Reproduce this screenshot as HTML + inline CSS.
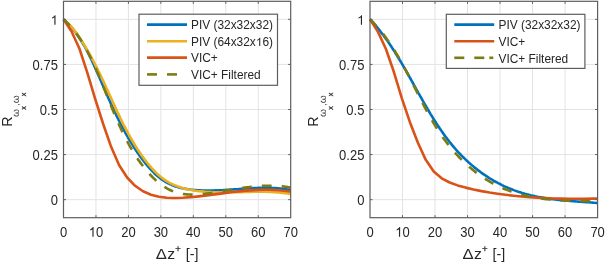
<!DOCTYPE html>
<html><head><meta charset="utf-8"><style>
html,body{margin:0;padding:0;background:#fff;}
body{width:605px;height:263px;overflow:hidden;}
svg{display:block;font-family:'Liberation Sans', sans-serif;will-change:transform;font-kerning:none;}
</style></head><body>
<svg width="605" height="263" viewBox="0 0 605 263">
<rect width="605" height="263" fill="#fff"/>
<path d="M95.96,1.30V217.70M128.41,1.30V217.70M160.87,1.30V217.70M193.33,1.30V217.70M225.79,1.30V217.70M258.24,1.30V217.70M63.50,199.67H290.70M63.50,154.58H290.70M63.50,109.50H290.70M63.50,64.42H290.70M63.50,19.33H290.70" stroke="#e3e3e3" stroke-width="1.0" fill="none"/>
<path d="M402.51,1.30V217.70M435.03,1.30V217.70M467.54,1.30V217.70M500.06,1.30V217.70M532.57,1.30V217.70M565.09,1.30V217.70M370.00,199.67H597.60M370.00,154.58H597.60M370.00,109.50H597.60M370.00,64.42H597.60M370.00,19.33H597.60" stroke="#e3e3e3" stroke-width="1.0" fill="none"/>
<g><path d="M63.5,19.3 C63.7,19.5 64.3,20.0 64.6,20.3 C65.0,20.7 65.4,21.0 65.7,21.4 C66.1,21.7 66.4,22.1 66.8,22.4 C67.1,22.8 67.5,23.1 67.8,23.5 C68.2,23.8 68.5,24.2 68.9,24.6 C69.2,24.9 69.6,25.3 69.9,25.7 C70.2,26.0 70.6,26.4 70.9,26.8 C71.2,27.2 71.5,27.5 71.9,27.9 C72.2,28.3 72.5,28.7 72.8,29.0 C73.1,29.4 73.4,29.8 73.7,30.2 C74.1,30.6 74.4,31.0 74.7,31.4 C75.0,31.8 75.3,32.1 75.6,32.5 C75.9,32.9 76.2,33.3 76.4,33.7 C76.7,34.1 77.0,34.5 77.3,34.9 C77.6,35.3 77.9,35.7 78.2,36.1 C78.4,36.6 78.7,37.0 79.0,37.4 C79.3,37.8 79.6,38.2 79.8,38.6 C80.1,39.0 80.4,39.4 80.6,39.8 C80.9,40.3 81.2,40.7 81.4,41.1 C81.7,41.5 81.9,41.9 82.2,42.4 C82.5,42.8 82.7,43.2 83.0,43.6 C83.2,44.1 83.5,44.5 83.7,44.9 C84.0,45.3 84.2,45.8 84.5,46.2 C84.7,46.6 85.0,47.1 85.2,47.5 C85.4,47.9 85.7,48.4 85.9,48.8 C86.2,49.2 86.4,49.7 86.6,50.1 C86.9,50.6 87.1,51.0 87.3,51.4 C87.6,51.9 87.8,52.3 88.0,52.8 C88.2,53.2 88.5,53.7 88.7,54.1 C88.9,54.5 89.2,55.0 89.4,55.4 C89.6,55.9 89.8,56.3 90.0,56.8 C90.3,57.2 90.5,57.7 90.7,58.1 C90.9,58.6 91.1,59.0 91.3,59.5 C91.6,59.9 91.8,60.4 92.0,60.8 C92.2,61.3 92.4,61.8 92.6,62.2 C92.8,62.7 93.0,63.1 93.3,63.6 C93.5,64.0 93.7,64.5 93.9,64.9 C94.1,65.4 94.3,65.9 94.5,66.3 C94.7,66.8 94.9,67.2 95.1,67.7 C95.3,68.1 95.5,68.6 95.7,69.1 C95.9,69.5 96.1,70.0 96.4,70.4 C96.6,70.9 96.8,71.4 97.0,71.8 C97.2,72.3 97.4,72.7 97.6,73.2 C97.8,73.7 98.0,74.1 98.2,74.6 C98.4,75.0 98.6,75.5 98.8,76.0 C99.0,76.4 99.2,76.9 99.4,77.4 C99.6,77.8 99.8,78.3 100.0,78.7 C100.2,79.2 100.4,79.7 100.6,80.1 C100.8,80.6 101.0,81.0 101.2,81.5 C101.4,82.0 101.6,82.4 101.8,82.9 C102.0,83.4 102.2,83.8 102.4,84.3 C102.6,84.7 102.8,85.2 103.0,85.7 C103.2,86.1 103.4,86.6 103.6,87.0 C103.8,87.5 104.0,88.0 104.2,88.4 C104.4,88.9 104.6,89.3 104.8,89.8 C105.0,90.3 105.2,90.7 105.4,91.2 C105.6,91.6 105.8,92.1 106.0,92.6 C106.2,93.0 106.4,93.5 106.6,93.9 C106.8,94.4 107.0,94.9 107.2,95.3 C107.4,95.8 107.6,96.2 107.8,96.7 C108.0,97.2 108.2,97.6 108.4,98.1 C108.6,98.5 108.8,99.0 109.1,99.5 C109.3,99.9 109.5,100.4 109.7,100.8 C109.9,101.3 110.1,101.7 110.3,102.2 C110.5,102.7 110.7,103.1 110.9,103.6 C111.1,104.0 111.3,104.5 111.5,104.9 C111.7,105.4 111.9,105.9 112.2,106.3 C112.4,106.8 112.6,107.2 112.8,107.7 C113.0,108.1 113.2,108.6 113.4,109.0 C113.6,109.5 113.8,109.9 114.1,110.4 C114.3,110.9 114.5,111.3 114.7,111.8 C114.9,112.2 115.1,112.7 115.3,113.1 C115.6,113.6 115.8,114.0 116.0,114.5 C116.2,114.9 116.4,115.4 116.6,115.8 C116.9,116.3 117.1,116.7 117.3,117.2 C117.5,117.6 117.7,118.1 118.0,118.5 C118.2,119.0 118.4,119.4 118.6,119.9 C118.9,120.3 119.1,120.8 119.3,121.2 C119.5,121.7 119.8,122.1 120.0,122.6 C120.2,123.0 120.4,123.5 120.7,123.9 C120.9,124.3 121.1,124.8 121.4,125.2 C121.6,125.7 121.8,126.1 122.1,126.6 C122.3,127.0 122.5,127.4 122.8,127.9 C123.0,128.3 123.2,128.8 123.5,129.2 C123.7,129.7 123.9,130.1 124.2,130.5 C124.4,131.0 124.6,131.4 124.9,131.9 C125.1,132.3 125.4,132.7 125.6,133.2 C125.9,133.6 126.1,134.0 126.3,134.5 C126.6,134.9 126.8,135.4 127.1,135.8 C127.3,136.2 127.6,136.7 127.8,137.1 C128.1,137.5 128.3,138.0 128.6,138.4 C128.8,138.8 129.1,139.3 129.3,139.7 C129.6,140.1 129.9,140.6 130.1,141.0 C130.4,141.4 130.6,141.8 130.9,142.3 C131.2,142.7 131.4,143.1 131.7,143.6 C131.9,144.0 132.2,144.4 132.5,144.8 C132.7,145.3 133.0,145.7 133.3,146.1 C133.5,146.5 133.8,147.0 134.1,147.4 C134.4,147.8 134.6,148.2 134.9,148.7 C135.2,149.1 135.5,149.5 135.7,149.9 C136.0,150.3 136.3,150.8 136.6,151.2 C136.9,151.6 137.1,152.0 137.4,152.4 C137.7,152.8 138.0,153.3 138.3,153.7 C138.6,154.1 138.9,154.5 139.1,154.9 C139.4,155.3 139.7,155.7 140.0,156.1 C140.3,156.6 140.6,157.0 140.9,157.4 C141.2,157.8 141.5,158.2 141.8,158.6 C142.1,159.0 142.4,159.4 142.7,159.8 C143.0,160.2 143.3,160.6 143.6,161.0 C143.9,161.4 144.3,161.8 144.6,162.2 C144.9,162.6 145.2,163.0 145.5,163.4 C145.8,163.8 146.1,164.2 146.5,164.6 C146.8,165.0 147.1,165.4 147.4,165.8 C147.8,166.2 148.1,166.5 148.4,166.9 C148.7,167.3 149.1,167.7 149.4,168.1 C149.7,168.4 150.1,168.8 150.4,169.2 C150.7,169.5 151.1,169.9 151.4,170.3 C151.8,170.6 152.1,171.0 152.5,171.4 C152.8,171.7 153.2,172.1 153.5,172.4 C153.9,172.8 154.2,173.1 154.6,173.5 C154.9,173.8 155.3,174.1 155.7,174.5 C156.0,174.8 156.4,175.1 156.8,175.4 C157.1,175.8 157.5,176.1 157.9,176.4 C158.3,176.7 158.6,177.0 159.0,177.3 C159.4,177.6 159.8,177.9 160.2,178.2 C160.6,178.5 160.9,178.8 161.3,179.1 C161.7,179.4 162.1,179.7 162.5,179.9 C162.9,180.2 163.3,180.5 163.7,180.7 C164.1,181.0 164.5,181.3 165.0,181.5 C165.4,181.8 165.8,182.0 166.2,182.3 C166.6,182.5 167.0,182.7 167.5,183.0 C167.9,183.2 168.3,183.4 168.8,183.6 C169.2,183.8 169.6,184.0 170.1,184.2 C170.5,184.4 170.9,184.6 171.4,184.8 C171.8,185.0 172.3,185.2 172.7,185.4 C173.2,185.5 173.6,185.7 174.1,185.9 C174.5,186.0 175.0,186.2 175.4,186.4 C175.9,186.5 176.4,186.7 176.8,186.8 C177.3,186.9 177.8,187.1 178.2,187.2 C178.7,187.3 179.2,187.5 179.7,187.6 C180.1,187.7 180.6,187.8 181.1,188.0 C181.6,188.1 182.0,188.2 182.5,188.3 C183.0,188.4 183.5,188.5 184.0,188.6 C184.5,188.7 184.9,188.8 185.4,188.9 C185.9,188.9 186.4,189.0 186.9,189.1 C187.4,189.2 187.9,189.3 188.4,189.3 C188.9,189.4 189.4,189.5 189.9,189.5 C190.4,189.6 190.9,189.7 191.4,189.7 C191.9,189.8 192.4,189.8 192.9,189.9 C193.4,189.9 193.9,190.0 194.4,190.0 C194.9,190.1 195.4,190.1 195.9,190.1 C196.4,190.2 196.9,190.2 197.4,190.2 C197.9,190.3 198.4,190.3 198.9,190.3 C199.4,190.3 199.9,190.4 200.4,190.4 C200.9,190.4 201.4,190.4 201.9,190.5 C202.4,190.5 202.9,190.5 203.4,190.5 C203.9,190.5 204.4,190.5 204.9,190.5 C205.4,190.5 205.9,190.5 206.4,190.5 C206.9,190.5 207.5,190.5 208.0,190.5 C208.5,190.5 209.0,190.5 209.5,190.5 C210.0,190.5 210.5,190.5 211.0,190.5 C211.5,190.5 212.0,190.5 212.5,190.5 C213.0,190.5 213.5,190.5 214.0,190.5 C214.5,190.4 215.0,190.4 215.5,190.4 C216.0,190.4 216.5,190.4 217.0,190.4 C217.5,190.3 218.1,190.3 218.6,190.3 C219.1,190.3 219.6,190.3 220.1,190.2 C220.6,190.2 221.1,190.2 221.6,190.2 C222.1,190.1 222.6,190.1 223.1,190.1 C223.6,190.0 224.1,190.0 224.6,190.0 C225.1,190.0 225.6,189.9 226.1,189.9 C226.6,189.9 227.1,189.8 227.7,189.8 C228.2,189.8 228.7,189.7 229.2,189.7 C229.7,189.7 230.2,189.6 230.7,189.6 C231.2,189.6 231.7,189.5 232.2,189.5 C232.7,189.5 233.2,189.4 233.7,189.4 C234.2,189.4 234.7,189.3 235.2,189.3 C235.7,189.2 236.2,189.2 236.7,189.2 C237.2,189.1 237.8,189.1 238.3,189.1 C238.8,189.0 239.3,189.0 239.8,189.0 C240.3,188.9 240.8,188.9 241.3,188.9 C241.8,188.8 242.3,188.8 242.8,188.7 C243.3,188.7 243.8,188.7 244.3,188.6 C244.8,188.6 245.3,188.6 245.8,188.5 C246.3,188.5 246.8,188.5 247.3,188.5 C247.8,188.4 248.3,188.4 248.8,188.4 C249.3,188.3 249.8,188.3 250.3,188.3 C250.9,188.2 251.4,188.2 251.9,188.2 C252.4,188.2 252.9,188.1 253.4,188.1 C253.9,188.1 254.4,188.1 254.9,188.1 C255.4,188.0 255.9,188.0 256.4,188.0 C256.9,188.0 257.4,188.0 257.9,187.9 C258.4,187.9 258.9,187.9 259.4,187.9 C259.9,187.9 260.4,187.9 260.9,187.9 C261.4,187.8 261.9,187.8 262.4,187.8 C262.9,187.8 263.4,187.8 263.9,187.8 C264.4,187.8 264.9,187.8 265.4,187.8 C265.9,187.8 266.4,187.8 266.9,187.8 C267.4,187.8 267.9,187.8 268.4,187.8 C268.9,187.9 269.4,187.9 269.9,187.9 C270.4,187.9 270.9,187.9 271.4,187.9 C271.9,187.9 272.4,188.0 272.9,188.0 C273.4,188.0 273.9,188.0 274.4,188.1 C274.9,188.1 275.4,188.1 275.9,188.1 C276.4,188.2 276.9,188.2 277.4,188.2 C277.9,188.3 278.3,188.3 278.8,188.4 C279.3,188.4 279.8,188.5 280.3,188.5 C280.8,188.6 281.3,188.6 281.8,188.7 C282.3,188.7 282.8,188.8 283.3,188.8 C283.8,188.9 284.3,189.0 284.8,189.0 C285.3,189.1 285.8,189.2 286.3,189.2 C286.8,189.3 287.3,189.4 287.7,189.5 C288.2,189.6 288.7,189.6 289.2,189.7 C289.7,189.8 290.5,190.0 290.7,190.0" stroke="#0072bd" stroke-width="2.6" fill="none" stroke-linejoin="round"/><path d="M63.5,19.3 C63.7,19.5 64.3,19.9 64.7,20.2 C65.1,20.6 65.5,20.9 65.8,21.2 C66.2,21.6 66.6,21.9 67.0,22.2 C67.3,22.6 67.7,22.9 68.0,23.3 C68.4,23.6 68.8,24.0 69.1,24.3 C69.5,24.7 69.8,25.0 70.1,25.4 C70.5,25.8 70.8,26.1 71.1,26.5 C71.5,26.9 71.8,27.3 72.1,27.6 C72.4,28.0 72.8,28.4 73.1,28.8 C73.4,29.2 73.7,29.6 74.0,29.9 C74.3,30.3 74.6,30.7 74.9,31.1 C75.2,31.5 75.5,31.9 75.8,32.3 C76.1,32.7 76.4,33.1 76.7,33.5 C77.0,33.9 77.3,34.3 77.5,34.7 C77.8,35.1 78.1,35.6 78.4,36.0 C78.7,36.4 79.0,36.8 79.2,37.2 C79.5,37.6 79.8,38.0 80.1,38.4 C80.3,38.9 80.6,39.3 80.9,39.7 C81.1,40.1 81.4,40.5 81.7,41.0 C82.0,41.4 82.2,41.8 82.5,42.2 C82.8,42.6 83.0,43.1 83.3,43.5 C83.5,43.9 83.8,44.3 84.1,44.7 C84.3,45.2 84.6,45.6 84.8,46.0 C85.1,46.5 85.4,46.9 85.6,47.3 C85.9,47.7 86.1,48.2 86.4,48.6 C86.6,49.0 86.9,49.4 87.1,49.9 C87.4,50.3 87.6,50.7 87.9,51.2 C88.1,51.6 88.4,52.0 88.6,52.5 C88.9,52.9 89.1,53.3 89.4,53.8 C89.6,54.2 89.9,54.6 90.1,55.1 C90.3,55.5 90.6,56.0 90.8,56.4 C91.1,56.8 91.3,57.3 91.5,57.7 C91.8,58.2 92.0,58.6 92.3,59.0 C92.5,59.5 92.7,59.9 93.0,60.4 C93.2,60.8 93.4,61.2 93.7,61.7 C93.9,62.1 94.1,62.6 94.4,63.0 C94.6,63.5 94.8,63.9 95.1,64.4 C95.3,64.8 95.5,65.2 95.7,65.7 C96.0,66.1 96.2,66.6 96.4,67.0 C96.7,67.5 96.9,67.9 97.1,68.4 C97.3,68.8 97.6,69.3 97.8,69.7 C98.0,70.2 98.2,70.6 98.4,71.1 C98.7,71.5 98.9,72.0 99.1,72.4 C99.3,72.9 99.6,73.3 99.8,73.8 C100.0,74.2 100.2,74.7 100.4,75.2 C100.6,75.6 100.9,76.1 101.1,76.5 C101.3,77.0 101.5,77.4 101.7,77.9 C101.9,78.3 102.2,78.8 102.4,79.2 C102.6,79.7 102.8,80.2 103.0,80.6 C103.2,81.1 103.4,81.5 103.7,82.0 C103.9,82.4 104.1,82.9 104.3,83.4 C104.5,83.8 104.7,84.3 104.9,84.7 C105.1,85.2 105.4,85.6 105.6,86.1 C105.8,86.6 106.0,87.0 106.2,87.5 C106.4,87.9 106.6,88.4 106.8,88.9 C107.0,89.3 107.3,89.8 107.5,90.2 C107.7,90.7 107.9,91.2 108.1,91.6 C108.3,92.1 108.5,92.5 108.7,93.0 C108.9,93.4 109.1,93.9 109.3,94.4 C109.6,94.8 109.8,95.3 110.0,95.7 C110.2,96.2 110.4,96.7 110.6,97.1 C110.8,97.6 111.0,98.0 111.2,98.5 C111.4,99.0 111.7,99.4 111.9,99.9 C112.1,100.3 112.3,100.8 112.5,101.3 C112.7,101.7 112.9,102.2 113.1,102.6 C113.3,103.1 113.5,103.6 113.8,104.0 C114.0,104.5 114.2,104.9 114.4,105.4 C114.6,105.9 114.8,106.3 115.0,106.8 C115.2,107.2 115.4,107.7 115.7,108.1 C115.9,108.6 116.1,109.1 116.3,109.5 C116.5,110.0 116.7,110.4 116.9,110.9 C117.1,111.3 117.4,111.8 117.6,112.3 C117.8,112.7 118.0,113.2 118.2,113.6 C118.4,114.1 118.6,114.5 118.9,115.0 C119.1,115.4 119.3,115.9 119.5,116.3 C119.7,116.8 120.0,117.3 120.2,117.7 C120.4,118.2 120.6,118.6 120.8,119.1 C121.1,119.5 121.3,120.0 121.5,120.4 C121.7,120.9 121.9,121.3 122.2,121.8 C122.4,122.2 122.6,122.7 122.8,123.1 C123.1,123.6 123.3,124.0 123.5,124.5 C123.7,124.9 124.0,125.4 124.2,125.8 C124.4,126.3 124.6,126.7 124.9,127.1 C125.1,127.6 125.3,128.0 125.6,128.5 C125.8,128.9 126.0,129.4 126.3,129.8 C126.5,130.3 126.7,130.7 127.0,131.1 C127.2,131.6 127.4,132.0 127.7,132.5 C127.9,132.9 128.1,133.3 128.4,133.8 C128.6,134.2 128.9,134.7 129.1,135.1 C129.3,135.5 129.6,136.0 129.8,136.4 C130.1,136.8 130.3,137.3 130.6,137.7 C130.8,138.1 131.1,138.6 131.3,139.0 C131.6,139.4 131.8,139.9 132.1,140.3 C132.3,140.7 132.6,141.2 132.8,141.6 C133.1,142.0 133.3,142.5 133.6,142.9 C133.8,143.3 134.1,143.7 134.4,144.2 C134.6,144.6 134.9,145.0 135.1,145.4 C135.4,145.9 135.7,146.3 135.9,146.7 C136.2,147.1 136.5,147.5 136.7,148.0 C137.0,148.4 137.3,148.8 137.5,149.2 C137.8,149.6 138.1,150.0 138.3,150.5 C138.6,150.9 138.9,151.3 139.2,151.7 C139.4,152.1 139.7,152.5 140.0,152.9 C140.3,153.3 140.6,153.7 140.8,154.2 C141.1,154.6 141.4,155.0 141.7,155.4 C142.0,155.8 142.3,156.2 142.6,156.6 C142.9,157.0 143.2,157.4 143.4,157.8 C143.7,158.2 144.0,158.6 144.3,159.0 C144.6,159.4 144.9,159.8 145.2,160.2 C145.5,160.6 145.8,161.0 146.1,161.4 C146.4,161.8 146.8,162.1 147.1,162.5 C147.4,162.9 147.7,163.3 148.0,163.7 C148.3,164.1 148.6,164.5 148.9,164.9 C149.3,165.2 149.6,165.6 149.9,166.0 C150.2,166.4 150.5,166.8 150.9,167.1 C151.2,167.5 151.5,167.9 151.9,168.3 C152.2,168.6 152.5,169.0 152.9,169.4 C153.2,169.7 153.5,170.1 153.9,170.5 C154.2,170.8 154.6,171.2 154.9,171.5 C155.3,171.9 155.6,172.2 156.0,172.6 C156.3,172.9 156.7,173.3 157.0,173.6 C157.4,174.0 157.8,174.3 158.1,174.6 C158.5,174.9 158.9,175.3 159.2,175.6 C159.6,175.9 160.0,176.2 160.4,176.5 C160.7,176.9 161.1,177.2 161.5,177.5 C161.9,177.8 162.3,178.1 162.7,178.4 C163.1,178.7 163.5,178.9 163.9,179.2 C164.3,179.5 164.7,179.8 165.1,180.1 C165.5,180.3 165.9,180.6 166.3,180.9 C166.7,181.1 167.1,181.4 167.6,181.6 C168.0,181.9 168.4,182.1 168.8,182.4 C169.3,182.6 169.7,182.8 170.1,183.1 C170.6,183.3 171.0,183.5 171.5,183.7 C171.9,184.0 172.3,184.2 172.8,184.4 C173.2,184.6 173.7,184.8 174.1,185.0 C174.6,185.2 175.0,185.4 175.5,185.5 C176.0,185.7 176.4,185.9 176.9,186.1 C177.3,186.3 177.8,186.4 178.3,186.6 C178.8,186.8 179.2,186.9 179.7,187.1 C180.2,187.2 180.6,187.4 181.1,187.5 C181.6,187.7 182.1,187.8 182.6,188.0 C183.0,188.1 183.5,188.3 184.0,188.4 C184.5,188.5 185.0,188.6 185.5,188.8 C186.0,188.9 186.4,189.0 186.9,189.1 C187.4,189.2 187.9,189.3 188.4,189.4 C188.9,189.5 189.4,189.6 189.9,189.7 C190.4,189.8 190.9,189.9 191.4,190.0 C191.9,190.1 192.4,190.2 192.9,190.3 C193.4,190.4 193.9,190.5 194.4,190.5 C194.9,190.6 195.4,190.7 195.9,190.8 C196.4,190.8 196.9,190.9 197.4,191.0 C197.9,191.0 198.4,191.1 199.0,191.2 C199.5,191.2 200.0,191.3 200.5,191.3 C201.0,191.4 201.5,191.4 202.0,191.5 C202.5,191.5 203.0,191.6 203.5,191.6 C204.0,191.7 204.5,191.7 205.0,191.8 C205.5,191.8 206.1,191.8 206.6,191.9 C207.1,191.9 207.6,191.9 208.1,192.0 C208.6,192.0 209.1,192.0 209.6,192.1 C210.1,192.1 210.6,192.1 211.1,192.1 C211.6,192.2 212.1,192.2 212.6,192.2 C213.1,192.2 213.6,192.2 214.1,192.3 C214.6,192.3 215.1,192.3 215.6,192.3 C216.2,192.3 216.7,192.3 217.2,192.3 C217.7,192.3 218.2,192.4 218.7,192.4 C219.2,192.4 219.7,192.4 220.2,192.4 C220.7,192.4 221.2,192.4 221.7,192.4 C222.2,192.4 222.7,192.4 223.2,192.4 C223.7,192.4 224.2,192.4 224.7,192.4 C225.2,192.4 225.7,192.4 226.2,192.4 C226.7,192.4 227.2,192.4 227.7,192.4 C228.2,192.4 228.7,192.4 229.2,192.4 C229.7,192.3 230.2,192.3 230.7,192.3 C231.2,192.3 231.7,192.3 232.2,192.3 C232.7,192.3 233.2,192.3 233.7,192.3 C234.2,192.3 234.7,192.2 235.2,192.2 C235.7,192.2 236.2,192.2 236.7,192.2 C237.2,192.2 237.7,192.2 238.2,192.2 C238.7,192.1 239.2,192.1 239.7,192.1 C240.2,192.1 240.7,192.1 241.2,192.1 C241.7,192.1 242.2,192.1 242.7,192.0 C243.2,192.0 243.7,192.0 244.2,192.0 C244.7,192.0 245.2,192.0 245.7,192.0 C246.2,192.0 246.7,191.9 247.2,191.9 C247.7,191.9 248.2,191.9 248.7,191.9 C249.2,191.9 249.7,191.9 250.2,191.9 C250.7,191.9 251.2,191.8 251.7,191.8 C252.2,191.8 252.7,191.8 253.2,191.8 C253.7,191.8 254.2,191.8 254.7,191.8 C255.2,191.8 255.7,191.8 256.2,191.8 C256.7,191.8 257.2,191.8 257.7,191.8 C258.2,191.8 258.7,191.8 259.2,191.8 C259.7,191.8 260.2,191.8 260.7,191.8 C261.2,191.8 261.7,191.8 262.2,191.8 C262.7,191.8 263.2,191.8 263.7,191.8 C264.2,191.8 264.7,191.8 265.2,191.8 C265.7,191.8 266.2,191.8 266.7,191.8 C267.2,191.9 267.7,191.9 268.2,191.9 C268.7,191.9 269.2,191.9 269.7,191.9 C270.2,192.0 270.7,192.0 271.2,192.0 C271.7,192.0 272.2,192.0 272.7,192.1 C273.2,192.1 273.7,192.1 274.2,192.2 C274.7,192.2 275.2,192.2 275.7,192.3 C276.2,192.3 276.7,192.3 277.2,192.4 C277.7,192.4 278.2,192.4 278.7,192.5 C279.2,192.5 279.7,192.6 280.2,192.6 C280.7,192.7 281.2,192.7 281.7,192.8 C282.2,192.8 282.7,192.9 283.2,192.9 C283.7,193.0 284.2,193.1 284.7,193.1 C285.2,193.2 285.7,193.2 286.2,193.3 C286.7,193.4 287.2,193.5 287.7,193.5 C288.2,193.6 288.7,193.7 289.2,193.8 C289.7,193.8 290.4,194.0 290.7,194.0" stroke="#edb120" stroke-width="2.6" fill="none" stroke-linejoin="round"/><path d="M63.50,19.29L71.45,31.19L79.40,48.51L87.36,72.96L95.31,99.35L103.26,124.24L111.21,147.08L119.16,165.19L127.12,177.51L135.07,185.78L143.02,191.24L150.97,194.73L158.92,196.76L166.88,197.76L174.83,198.03L182.78,197.78L190.73,197.17L198.68,196.36L206.64,195.41L214.59,194.39L222.54,193.34L230.49,192.33L238.44,191.41L246.40,190.64L254.35,190.08L262.30,189.79L270.25,189.82L278.20,190.23L286.16,191.04L290.70,191.71" stroke="#d95319" stroke-width="2.6" fill="none" stroke-linejoin="round"/><path d="M63.5,19.3 C63.7,19.5 64.3,20.0 64.6,20.3 C65.0,20.7 65.3,21.0 65.7,21.3 C66.1,21.7 66.4,22.0 66.8,22.4 C67.1,22.7 67.5,23.1 67.8,23.5 C68.2,23.8 68.5,24.2 68.9,24.5 C69.2,24.9 69.5,25.3 69.9,25.6 C70.2,26.0 70.5,26.4 70.9,26.7 C71.2,27.1 71.5,27.5 71.8,27.9 C72.2,28.3 72.5,28.6 72.8,29.0 C73.1,29.4 73.4,29.8 73.7,30.2 C74.1,30.6 74.4,30.9 74.7,31.3 C75.0,31.7 75.3,32.1 75.6,32.5 C75.9,32.9 76.2,33.3 76.5,33.7 C76.8,34.1 77.1,34.5 77.3,34.9 C77.6,35.3 77.9,35.7 78.2,36.1 C78.5,36.5 78.8,36.9 79.1,37.4 C79.3,37.8 79.6,38.2 79.9,38.6 C80.2,39.0 80.4,39.4 80.7,39.8 C81.0,40.3 81.3,40.7 81.5,41.1 C81.8,41.5 82.0,41.9 82.3,42.4 C82.6,42.8 82.8,43.2 83.1,43.6 C83.3,44.1 83.6,44.5 83.9,44.9 C84.1,45.4 84.4,45.8 84.6,46.2 C84.9,46.7 85.1,47.1 85.4,47.5 C85.6,48.0 85.9,48.4 86.1,48.8 C86.3,49.3 86.6,49.7 86.8,50.2 C87.1,50.6 87.3,51.0 87.5,51.5 C87.8,51.9 88.0,52.4 88.2,52.8 C88.5,53.3 88.7,53.7 88.9,54.2 C89.2,54.6 89.4,55.1 89.6,55.5 C89.8,56.0 90.1,56.4 90.3,56.9 C90.5,57.3 90.7,57.8 91.0,58.2 C91.2,58.7 91.4,59.1 91.6,59.6 C91.8,60.0 92.0,60.5 92.3,60.9 C92.5,61.4 92.7,61.8 92.9,62.3 C93.1,62.8 93.3,63.2 93.5,63.7 C93.8,64.1 94.0,64.6 94.2,65.0 C94.4,65.5 94.6,66.0 94.8,66.4 C95.0,66.9 95.2,67.3 95.4,67.8 C95.6,68.3 95.8,68.7 96.0,69.2 C96.2,69.6 96.4,70.1 96.6,70.6 C96.8,71.0 97.0,71.5 97.2,72.0 C97.4,72.4 97.6,72.9 97.8,73.3 C98.0,73.8 98.2,74.3 98.4,74.7 C98.6,75.2 98.8,75.7 99.0,76.1 C99.2,76.6 99.4,77.1 99.6,77.5 C99.8,78.0 100.0,78.4 100.2,78.9 C100.4,79.4 100.6,79.8 100.8,80.3 C101.0,80.8 101.2,81.2 101.4,81.7 C101.6,82.2 101.7,82.6 101.9,83.1 C102.1,83.6 102.3,84.0 102.5,84.5 C102.7,85.0 102.9,85.4 103.1,85.9 C103.3,86.4 103.5,86.8 103.6,87.3 C103.8,87.8 104.0,88.2 104.2,88.7 C104.4,89.2 104.6,89.7 104.8,90.1 C105.0,90.6 105.2,91.1 105.3,91.5 C105.5,92.0 105.7,92.5 105.9,92.9 C106.1,93.4 106.3,93.9 106.5,94.3 C106.6,94.8 106.8,95.3 107.0,95.7 C107.2,96.2 107.4,96.7 107.6,97.1 C107.8,97.6 108.0,98.1 108.1,98.5 C108.3,99.0 108.5,99.5 108.7,99.9 C108.9,100.4 109.1,100.9 109.3,101.4 C109.5,101.8 109.6,102.3 109.8,102.8 C110.0,103.2 110.2,103.7 110.4,104.2 C110.6,104.6 110.8,105.1 111.0,105.6 C111.2,106.0 111.3,106.5 111.5,107.0 C111.7,107.4 111.9,107.9 112.1,108.4 C112.3,108.8 112.5,109.3 112.7,109.8 C112.9,110.2 113.1,110.7 113.3,111.2 C113.4,111.6 113.6,112.1 113.8,112.5 C114.0,113.0 114.2,113.5 114.4,113.9 C114.6,114.4 114.8,114.9 115.0,115.3 C115.2,115.8 115.4,116.3 115.6,116.7 C115.8,117.2 116.0,117.6 116.2,118.1 C116.4,118.6 116.6,119.0 116.8,119.5 C117.0,120.0 117.2,120.4 117.4,120.9 C117.6,121.3 117.8,121.8 118.0,122.3 C118.2,122.7 118.4,123.2 118.6,123.6 C118.8,124.1 119.0,124.5 119.2,125.0 C119.4,125.5 119.6,125.9 119.8,126.4 C120.0,126.8 120.3,127.3 120.5,127.7 C120.7,128.2 120.9,128.7 121.1,129.1 C121.3,129.6 121.5,130.0 121.7,130.5 C122.0,130.9 122.2,131.4 122.4,131.8 C122.6,132.3 122.8,132.7 123.0,133.2 C123.3,133.6 123.5,134.1 123.7,134.5 C123.9,135.0 124.2,135.4 124.4,135.9 C124.6,136.3 124.8,136.8 125.1,137.2 C125.3,137.7 125.5,138.1 125.7,138.6 C126.0,139.0 126.2,139.5 126.4,139.9 C126.7,140.3 126.9,140.8 127.1,141.2 C127.4,141.7 127.6,142.1 127.9,142.6 C128.1,143.0 128.3,143.4 128.6,143.9 C128.8,144.3 129.1,144.8 129.3,145.2 C129.5,145.6 129.8,146.1 130.0,146.5 C130.3,147.0 130.5,147.4 130.8,147.8 C131.0,148.3 131.3,148.7 131.6,149.1 C131.8,149.6 132.1,150.0 132.3,150.4 C132.6,150.9 132.8,151.3 133.1,151.7 C133.4,152.1 133.6,152.6 133.9,153.0 C134.2,153.4 134.4,153.9 134.7,154.3 C135.0,154.7 135.2,155.1 135.5,155.6 C135.8,156.0 136.1,156.4 136.3,156.8 C136.6,157.2 136.9,157.7 137.2,158.1 C137.5,158.5 137.8,158.9 138.0,159.3 C138.3,159.8 138.6,160.2 138.9,160.6 C139.2,161.0 139.5,161.4 139.8,161.8 C140.1,162.3 140.4,162.7 140.7,163.1 C141.0,163.5 141.3,163.9 141.6,164.3 C141.9,164.7 142.2,165.1 142.5,165.5 C142.8,165.9 143.1,166.3 143.4,166.7 C143.7,167.1 144.1,167.5 144.4,167.9 C144.7,168.3 145.0,168.7 145.3,169.1 C145.7,169.5 146.0,169.9 146.3,170.3 C146.6,170.7 147.0,171.1 147.3,171.5 C147.6,171.9 148.0,172.2 148.3,172.6 C148.6,173.0 149.0,173.4 149.3,173.8 C149.6,174.1 150.0,174.5 150.3,174.9 C150.7,175.2 151.0,175.6 151.4,176.0 C151.7,176.3 152.1,176.7 152.4,177.0 C152.8,177.4 153.2,177.8 153.5,178.1 C153.9,178.4 154.2,178.8 154.6,179.1 C155.0,179.5 155.3,179.8 155.7,180.1 C156.1,180.5 156.4,180.8 156.8,181.1 C157.2,181.5 157.6,181.8 157.9,182.1 C158.3,182.4 158.7,182.7 159.1,183.0 C159.5,183.3 159.9,183.6 160.3,183.9 C160.6,184.2 161.0,184.5 161.4,184.8 C161.8,185.1 162.2,185.4 162.6,185.6 C163.0,185.9 163.4,186.2 163.8,186.5 C164.2,186.7 164.6,187.0 165.1,187.2 C165.5,187.5 165.9,187.7 166.3,188.0 C166.7,188.2 167.1,188.5 167.5,188.7 C168.0,188.9 168.4,189.1 168.8,189.4 C169.2,189.6 169.7,189.8 170.1,190.0 C170.5,190.2 171.0,190.4 171.4,190.6 C171.8,190.8 172.3,191.0 172.7,191.2 C173.2,191.3 173.6,191.5 174.1,191.7 C174.5,191.8 175.0,192.0 175.4,192.1 C175.9,192.3 176.3,192.4 176.8,192.6 C177.2,192.7 177.7,192.8 178.1,193.0 C178.6,193.1 179.1,193.2 179.5,193.3 C180.0,193.4 180.5,193.5 181.0,193.6 C181.4,193.7 181.9,193.8 182.4,193.8 C182.9,193.9 183.3,194.0 183.8,194.1 C184.3,194.1 184.8,194.2 185.3,194.2 C185.8,194.3 186.3,194.3 186.7,194.4 C187.2,194.4 187.7,194.4 188.2,194.5 C188.7,194.5 189.2,194.5 189.7,194.5 C190.2,194.6 190.7,194.6 191.2,194.6 C191.7,194.6 192.2,194.6 192.7,194.6 C193.2,194.6 193.7,194.6 194.2,194.6 C194.7,194.6 195.2,194.6 195.7,194.5 C196.3,194.5 196.8,194.5 197.3,194.5 C197.8,194.4 198.3,194.4 198.8,194.4 C199.3,194.3 199.8,194.3 200.3,194.2 C200.9,194.2 201.4,194.2 201.9,194.1 C202.4,194.1 202.9,194.0 203.4,194.0 C203.9,193.9 204.5,193.8 205.0,193.8 C205.5,193.7 206.0,193.7 206.5,193.6 C207.0,193.5 207.6,193.5 208.1,193.4 C208.6,193.3 209.1,193.3 209.6,193.2 C210.1,193.1 210.6,193.0 211.2,193.0 C211.7,192.9 212.2,192.8 212.7,192.7 C213.2,192.6 213.7,192.6 214.3,192.5 C214.8,192.4 215.3,192.3 215.8,192.2 C216.3,192.2 216.8,192.1 217.3,192.0 C217.8,191.9 218.3,191.8 218.9,191.7 C219.4,191.7 219.9,191.6 220.4,191.5 C220.9,191.4 221.4,191.3 221.9,191.2 C222.4,191.1 222.9,191.1 223.4,191.0 C223.9,190.9 224.4,190.8 224.9,190.7 C225.4,190.6 225.9,190.6 226.4,190.5 C227.0,190.4 227.5,190.3 228.0,190.2 C228.5,190.1 229.0,190.0 229.5,190.0 C230.0,189.9 230.5,189.8 231.0,189.7 C231.5,189.6 232.0,189.5 232.5,189.5 C233.0,189.4 233.5,189.3 234.0,189.2 C234.5,189.1 234.9,189.1 235.4,189.0 C235.9,188.9 236.4,188.8 236.9,188.7 C237.4,188.7 237.9,188.6 238.4,188.5 C238.9,188.4 239.4,188.4 239.9,188.3 C240.4,188.2 240.9,188.1 241.4,188.1 C241.9,188.0 242.4,187.9 242.9,187.9 C243.4,187.8 243.9,187.7 244.4,187.6 C244.9,187.6 245.3,187.5 245.8,187.4 C246.3,187.4 246.8,187.3 247.3,187.3 C247.8,187.2 248.3,187.1 248.8,187.1 C249.3,187.0 249.8,187.0 250.3,186.9 C250.8,186.8 251.3,186.8 251.7,186.7 C252.2,186.7 252.7,186.6 253.2,186.6 C253.7,186.5 254.2,186.5 254.7,186.4 C255.2,186.4 255.7,186.3 256.2,186.3 C256.7,186.3 257.2,186.2 257.7,186.2 C258.2,186.1 258.6,186.1 259.1,186.1 C259.6,186.0 260.1,186.0 260.6,186.0 C261.1,186.0 261.6,185.9 262.1,185.9 C262.6,185.9 263.1,185.9 263.6,185.8 C264.1,185.8 264.6,185.8 265.1,185.8 C265.6,185.8 266.1,185.7 266.6,185.7 C267.0,185.7 267.5,185.7 268.0,185.7 C268.5,185.7 269.0,185.7 269.5,185.7 C270.0,185.7 270.5,185.7 271.0,185.7 C271.5,185.7 272.0,185.7 272.5,185.7 C273.0,185.8 273.5,185.8 274.0,185.8 C274.5,185.8 275.0,185.8 275.5,185.9 C276.0,185.9 276.5,185.9 277.0,185.9 C277.5,186.0 278.0,186.0 278.5,186.0 C279.0,186.1 279.5,186.1 280.0,186.2 C280.5,186.2 281.0,186.2 281.5,186.3 C282.0,186.4 282.5,186.4 283.1,186.5 C283.6,186.5 284.1,186.6 284.6,186.6 C285.1,186.7 285.6,186.8 286.1,186.9 C286.6,186.9 287.1,187.0 287.6,187.1 C288.1,187.2 288.7,187.2 289.2,187.3 C289.7,187.4 290.4,187.6 290.7,187.6" stroke="#7d7c14" stroke-width="2.6" fill="none" stroke-linejoin="round" stroke-dasharray="9.8 10.1" stroke-dashoffset="0.84"/></g>
<g><path d="M370.0,19.3 C370.2,19.5 370.7,20.0 371.0,20.4 C371.4,20.7 371.7,21.1 372.0,21.5 C372.4,21.8 372.7,22.2 373.0,22.6 C373.4,22.9 373.7,23.3 374.0,23.7 C374.3,24.1 374.7,24.4 375.0,24.8 C375.3,25.2 375.6,25.6 376.0,25.9 C376.3,26.3 376.6,26.7 376.9,27.1 C377.2,27.5 377.5,27.8 377.9,28.2 C378.2,28.6 378.5,29.0 378.8,29.4 C379.1,29.8 379.4,30.1 379.7,30.5 C380.0,30.9 380.3,31.3 380.6,31.7 C380.9,32.1 381.2,32.5 381.5,32.9 C381.8,33.3 382.2,33.7 382.4,34.1 C382.7,34.5 383.0,34.8 383.3,35.2 C383.6,35.6 383.9,36.0 384.2,36.4 C384.5,36.8 384.8,37.2 385.1,37.6 C385.4,38.0 385.7,38.5 386.0,38.9 C386.3,39.3 386.6,39.7 386.8,40.1 C387.1,40.5 387.4,40.9 387.7,41.3 C388.0,41.7 388.3,42.1 388.6,42.5 C388.8,42.9 389.1,43.3 389.4,43.8 C389.7,44.2 390.0,44.6 390.2,45.0 C390.5,45.4 390.8,45.8 391.1,46.2 C391.3,46.6 391.6,47.1 391.9,47.5 C392.2,47.9 392.4,48.3 392.7,48.7 C393.0,49.2 393.3,49.6 393.5,50.0 C393.8,50.4 394.1,50.8 394.3,51.3 C394.6,51.7 394.9,52.1 395.1,52.5 C395.4,53.0 395.7,53.4 395.9,53.8 C396.2,54.2 396.5,54.7 396.7,55.1 C397.0,55.5 397.3,55.9 397.5,56.4 C397.8,56.8 398.0,57.2 398.3,57.6 C398.6,58.1 398.8,58.5 399.1,58.9 C399.3,59.4 399.6,59.8 399.9,60.2 C400.1,60.7 400.4,61.1 400.6,61.5 C400.9,62.0 401.1,62.4 401.4,62.8 C401.7,63.3 401.9,63.7 402.2,64.1 C402.4,64.6 402.7,65.0 402.9,65.4 C403.2,65.9 403.4,66.3 403.7,66.7 C403.9,67.2 404.2,67.6 404.4,68.0 C404.7,68.5 404.9,68.9 405.2,69.4 C405.4,69.8 405.7,70.2 406.0,70.7 C406.2,71.1 406.4,71.5 406.7,72.0 C406.9,72.4 407.2,72.9 407.4,73.3 C407.7,73.7 407.9,74.2 408.2,74.6 C408.4,75.1 408.7,75.5 408.9,75.9 C409.2,76.4 409.4,76.8 409.7,77.3 C409.9,77.7 410.2,78.2 410.4,78.6 C410.7,79.0 410.9,79.5 411.2,79.9 C411.4,80.4 411.6,80.8 411.9,81.2 C412.1,81.7 412.4,82.1 412.6,82.6 C412.9,83.0 413.1,83.5 413.4,83.9 C413.6,84.3 413.9,84.8 414.1,85.2 C414.4,85.7 414.6,86.1 414.8,86.6 C415.1,87.0 415.3,87.4 415.6,87.9 C415.8,88.3 416.1,88.8 416.3,89.2 C416.6,89.7 416.8,90.1 417.1,90.5 C417.3,91.0 417.5,91.4 417.8,91.9 C418.0,92.3 418.3,92.8 418.5,93.2 C418.8,93.6 419.0,94.1 419.3,94.5 C419.5,95.0 419.8,95.4 420.0,95.8 C420.3,96.3 420.5,96.7 420.8,97.2 C421.0,97.6 421.3,98.1 421.5,98.5 C421.8,98.9 422.0,99.4 422.3,99.8 C422.5,100.3 422.8,100.7 423.0,101.1 C423.3,101.6 423.5,102.0 423.8,102.4 C424.0,102.9 424.3,103.3 424.5,103.8 C424.8,104.2 425.0,104.6 425.3,105.1 C425.5,105.5 425.8,106.0 426.0,106.4 C426.3,106.8 426.5,107.3 426.8,107.7 C427.0,108.1 427.3,108.6 427.6,109.0 C427.8,109.4 428.1,109.9 428.3,110.3 C428.6,110.7 428.8,111.2 429.1,111.6 C429.3,112.0 429.6,112.5 429.9,112.9 C430.1,113.3 430.4,113.8 430.6,114.2 C430.9,114.6 431.2,115.1 431.4,115.5 C431.7,115.9 432.0,116.3 432.2,116.8 C432.5,117.2 432.8,117.6 433.0,118.1 C433.3,118.5 433.5,118.9 433.8,119.3 C434.1,119.8 434.3,120.2 434.6,120.6 C434.9,121.0 435.2,121.5 435.4,121.9 C435.7,122.3 436.0,122.7 436.2,123.1 C436.5,123.6 436.8,124.0 437.1,124.4 C437.3,124.8 437.6,125.2 437.9,125.7 C438.2,126.1 438.4,126.5 438.7,126.9 C439.0,127.3 439.3,127.7 439.6,128.2 C439.8,128.6 440.1,129.0 440.4,129.4 C440.7,129.8 441.0,130.2 441.3,130.6 C441.5,131.0 441.8,131.4 442.1,131.9 C442.4,132.3 442.7,132.7 443.0,133.1 C443.3,133.5 443.6,133.9 443.8,134.3 C444.1,134.7 444.4,135.1 444.7,135.5 C445.0,135.9 445.3,136.3 445.6,136.7 C445.9,137.1 446.2,137.5 446.5,137.9 C446.8,138.3 447.1,138.7 447.4,139.1 C447.7,139.5 448.0,139.9 448.3,140.3 C448.6,140.7 448.9,141.1 449.2,141.5 C449.5,141.9 449.9,142.2 450.2,142.6 C450.5,143.0 450.8,143.4 451.1,143.8 C451.4,144.2 451.7,144.6 452.0,145.0 C452.4,145.3 452.7,145.7 453.0,146.1 C453.3,146.5 453.6,146.9 454.0,147.2 C454.3,147.6 454.6,148.0 454.9,148.4 C455.3,148.8 455.6,149.1 455.9,149.5 C456.2,149.9 456.6,150.2 456.9,150.6 C457.2,151.0 457.6,151.4 457.9,151.7 C458.2,152.1 458.6,152.5 458.9,152.8 C459.3,153.2 459.6,153.5 460.0,153.9 C460.3,154.3 460.6,154.6 461.0,155.0 C461.3,155.4 461.7,155.7 462.0,156.1 C462.4,156.4 462.7,156.8 463.1,157.1 C463.4,157.5 463.8,157.8 464.2,158.2 C464.5,158.5 464.9,158.9 465.2,159.2 C465.6,159.6 466.0,159.9 466.3,160.3 C466.7,160.6 467.1,160.9 467.4,161.3 C467.8,161.6 468.2,162.0 468.5,162.3 C468.9,162.6 469.3,163.0 469.7,163.3 C470.0,163.6 470.4,164.0 470.8,164.3 C471.2,164.6 471.5,164.9 471.9,165.3 C472.3,165.6 472.7,165.9 473.1,166.2 C473.5,166.6 473.8,166.9 474.2,167.2 C474.6,167.5 475.0,167.8 475.4,168.1 C475.8,168.4 476.2,168.8 476.6,169.1 C477.0,169.4 477.4,169.7 477.8,170.0 C478.2,170.3 478.6,170.6 479.0,170.9 C479.4,171.2 479.8,171.5 480.2,171.8 C480.6,172.1 481.0,172.4 481.4,172.7 C481.8,173.0 482.2,173.3 482.6,173.6 C483.0,173.9 483.4,174.1 483.9,174.4 C484.3,174.7 484.7,175.0 485.1,175.3 C485.5,175.6 485.9,175.8 486.4,176.1 C486.8,176.4 487.2,176.7 487.6,176.9 C488.0,177.2 488.5,177.5 488.9,177.8 C489.3,178.0 489.7,178.3 490.2,178.6 C490.6,178.8 491.0,179.1 491.5,179.3 C491.9,179.6 492.3,179.9 492.7,180.1 C493.2,180.4 493.6,180.6 494.0,180.9 C494.5,181.1 494.9,181.4 495.4,181.6 C495.8,181.9 496.2,182.1 496.7,182.3 C497.1,182.6 497.6,182.8 498.0,183.0 C498.4,183.3 498.9,183.5 499.3,183.7 C499.8,184.0 500.2,184.2 500.7,184.4 C501.1,184.7 501.6,184.9 502.0,185.1 C502.5,185.3 502.9,185.5 503.4,185.8 C503.8,186.0 504.3,186.2 504.7,186.4 C505.2,186.6 505.6,186.8 506.1,187.0 C506.6,187.2 507.0,187.4 507.5,187.6 C507.9,187.8 508.4,188.0 508.9,188.2 C509.3,188.4 509.8,188.6 510.2,188.8 C510.7,189.0 511.2,189.2 511.6,189.3 C512.1,189.5 512.6,189.7 513.0,189.9 C513.5,190.1 514.0,190.2 514.4,190.4 C514.9,190.6 515.4,190.8 515.9,190.9 C516.3,191.1 516.8,191.3 517.3,191.4 C517.7,191.6 518.2,191.7 518.7,191.9 C519.2,192.0 519.6,192.2 520.1,192.3 C520.6,192.5 521.1,192.6 521.6,192.8 C522.0,192.9 522.5,193.1 523.0,193.2 C523.5,193.4 524.0,193.5 524.4,193.6 C524.9,193.8 525.4,193.9 525.9,194.0 C526.4,194.2 526.8,194.3 527.3,194.4 C527.8,194.5 528.3,194.7 528.8,194.8 C529.3,194.9 529.8,195.0 530.3,195.2 C530.7,195.3 531.2,195.4 531.7,195.5 C532.2,195.6 532.7,195.7 533.2,195.8 C533.7,195.9 534.2,196.0 534.7,196.1 C535.2,196.3 535.6,196.4 536.1,196.5 C536.6,196.6 537.1,196.7 537.6,196.8 C538.1,196.8 538.6,196.9 539.1,197.0 C539.6,197.1 540.1,197.2 540.6,197.3 C541.1,197.4 541.6,197.5 542.1,197.6 C542.6,197.7 543.1,197.7 543.6,197.8 C544.1,197.9 544.6,198.0 545.1,198.1 C545.6,198.1 546.1,198.2 546.6,198.3 C547.1,198.4 547.6,198.5 548.1,198.5 C548.6,198.6 549.1,198.7 549.6,198.7 C550.1,198.8 550.6,198.9 551.1,198.9 C551.6,199.0 552.1,199.1 552.6,199.1 C553.1,199.2 553.6,199.3 554.1,199.3 C554.6,199.4 555.1,199.5 555.6,199.5 C556.1,199.6 556.6,199.6 557.1,199.7 C557.6,199.7 558.1,199.8 558.6,199.9 C559.1,199.9 559.6,200.0 560.1,200.0 C560.6,200.1 561.1,200.1 561.6,200.2 C562.1,200.2 562.6,200.3 563.1,200.3 C563.6,200.4 564.1,200.4 564.6,200.5 C565.1,200.5 565.6,200.6 566.1,200.6 C566.6,200.7 567.2,200.7 567.7,200.7 C568.2,200.8 568.7,200.8 569.2,200.9 C569.7,200.9 570.2,201.0 570.7,201.0 C571.2,201.0 571.7,201.1 572.2,201.1 C572.7,201.2 573.2,201.2 573.7,201.2 C574.2,201.3 574.7,201.3 575.2,201.4 C575.7,201.4 576.2,201.4 576.7,201.5 C577.2,201.5 577.7,201.5 578.2,201.6 C578.7,201.6 579.2,201.7 579.7,201.7 C580.2,201.7 580.7,201.8 581.2,201.8 C581.7,201.8 582.2,201.9 582.7,201.9 C583.2,201.9 583.7,202.0 584.2,202.0 C584.7,202.1 585.2,202.1 585.7,202.1 C586.2,202.2 586.7,202.2 587.2,202.2 C587.7,202.3 588.2,202.3 588.7,202.3 C589.2,202.4 589.7,202.4 590.2,202.4 C590.7,202.5 591.2,202.5 591.7,202.5 C592.2,202.6 592.7,202.6 593.2,202.7 C593.7,202.7 594.2,202.7 594.6,202.8 C595.1,202.8 595.6,202.8 596.1,202.9 C596.6,202.9 597.4,203.0 597.6,203.0" stroke="#0072bd" stroke-width="2.6" fill="none" stroke-linejoin="round"/><path d="M370.00,19.29L377.97,31.90L385.93,49.00L393.90,72.03L401.86,98.33L409.83,121.95L417.80,142.44L425.76,159.85L433.73,171.54L441.69,178.30L449.66,182.48L457.63,185.40L465.59,187.62L473.56,189.49L481.52,191.11L489.49,192.51L497.46,193.72L505.42,194.78L513.39,195.71L521.35,196.50L529.32,197.16L537.29,197.70L545.25,198.13L553.22,198.44L561.18,198.66L569.15,198.77L577.12,198.80L585.08,198.74L593.05,198.60L597.60,198.49" stroke="#d95319" stroke-width="2.6" fill="none" stroke-linejoin="round"/><path d="M370.0,19.3 C370.2,19.5 370.7,20.0 371.1,20.3 C371.4,20.7 371.8,21.1 372.1,21.4 C372.5,21.8 372.8,22.1 373.2,22.5 C373.5,22.8 373.9,23.2 374.2,23.6 C374.5,23.9 374.9,24.3 375.2,24.7 C375.6,25.0 375.9,25.4 376.2,25.8 C376.5,26.1 376.9,26.5 377.2,26.9 C377.5,27.2 377.9,27.6 378.2,28.0 C378.5,28.4 378.8,28.8 379.1,29.1 C379.5,29.5 379.8,29.9 380.1,30.3 C380.4,30.7 380.7,31.0 381.0,31.4 C381.3,31.8 381.7,32.2 382.0,32.6 C382.3,33.0 382.6,33.4 382.9,33.7 C383.2,34.1 383.5,34.5 383.8,34.9 C384.1,35.3 384.4,35.7 384.7,36.1 C385.0,36.5 385.3,36.9 385.6,37.3 C385.9,37.7 386.2,38.1 386.5,38.5 C386.7,38.9 387.0,39.3 387.3,39.7 C387.6,40.1 387.9,40.5 388.2,40.9 C388.5,41.3 388.7,41.7 389.0,42.1 C389.3,42.6 389.6,43.0 389.9,43.4 C390.1,43.8 390.4,44.2 390.7,44.6 C391.0,45.0 391.2,45.4 391.5,45.9 C391.8,46.3 392.1,46.7 392.3,47.1 C392.6,47.5 392.9,47.9 393.1,48.4 C393.4,48.8 393.7,49.2 393.9,49.6 C394.2,50.1 394.5,50.5 394.7,50.9 C395.0,51.3 395.3,51.7 395.5,52.2 C395.8,52.6 396.0,53.0 396.3,53.5 C396.5,53.9 396.8,54.3 397.1,54.7 C397.3,55.2 397.6,55.6 397.8,56.0 C398.1,56.5 398.3,56.9 398.6,57.3 C398.8,57.8 399.1,58.2 399.3,58.6 C399.6,59.1 399.8,59.5 400.1,59.9 C400.3,60.4 400.6,60.8 400.8,61.2 C401.1,61.7 401.3,62.1 401.6,62.5 C401.8,63.0 402.0,63.4 402.3,63.9 C402.5,64.3 402.8,64.7 403.0,65.2 C403.2,65.6 403.5,66.1 403.7,66.5 C404.0,67.0 404.2,67.4 404.4,67.8 C404.7,68.3 404.9,68.7 405.2,69.2 C405.4,69.6 405.6,70.1 405.9,70.5 C406.1,70.9 406.3,71.4 406.6,71.8 C406.8,72.3 407.0,72.7 407.3,73.2 C407.5,73.6 407.7,74.1 408.0,74.5 C408.2,75.0 408.4,75.4 408.7,75.9 C408.9,76.3 409.1,76.8 409.4,77.2 C409.6,77.7 409.8,78.1 410.1,78.6 C410.3,79.0 410.5,79.5 410.8,79.9 C411.0,80.4 411.2,80.8 411.4,81.3 C411.7,81.7 411.9,82.2 412.1,82.6 C412.4,83.1 412.6,83.5 412.8,84.0 C413.0,84.4 413.3,84.9 413.5,85.3 C413.7,85.8 414.0,86.2 414.2,86.7 C414.4,87.1 414.6,87.6 414.9,88.0 C415.1,88.5 415.3,88.9 415.6,89.4 C415.8,89.8 416.0,90.3 416.2,90.7 C416.5,91.2 416.7,91.6 416.9,92.1 C417.2,92.5 417.4,93.0 417.6,93.4 C417.9,93.9 418.1,94.3 418.3,94.8 C418.5,95.2 418.8,95.7 419.0,96.1 C419.2,96.6 419.5,97.0 419.7,97.5 C419.9,98.0 420.2,98.4 420.4,98.9 C420.6,99.3 420.8,99.8 421.1,100.2 C421.3,100.7 421.5,101.1 421.8,101.5 C422.0,102.0 422.2,102.4 422.5,102.9 C422.7,103.3 422.9,103.8 423.2,104.2 C423.4,104.7 423.6,105.1 423.9,105.6 C424.1,106.0 424.4,106.5 424.6,106.9 C424.8,107.4 425.1,107.8 425.3,108.3 C425.5,108.7 425.8,109.2 426.0,109.6 C426.3,110.0 426.5,110.5 426.7,110.9 C427.0,111.4 427.2,111.8 427.5,112.3 C427.7,112.7 427.9,113.1 428.2,113.6 C428.4,114.0 428.7,114.5 428.9,114.9 C429.2,115.3 429.4,115.8 429.7,116.2 C429.9,116.7 430.2,117.1 430.4,117.5 C430.6,118.0 430.9,118.4 431.1,118.9 C431.4,119.3 431.7,119.7 431.9,120.2 C432.2,120.6 432.4,121.0 432.7,121.5 C432.9,121.9 433.2,122.3 433.4,122.8 C433.7,123.2 433.9,123.6 434.2,124.0 C434.5,124.5 434.7,124.9 435.0,125.3 C435.2,125.8 435.5,126.2 435.8,126.6 C436.0,127.0 436.3,127.5 436.6,127.9 C436.8,128.3 437.1,128.7 437.4,129.2 C437.6,129.6 437.9,130.0 438.2,130.4 C438.5,130.9 438.7,131.3 439.0,131.7 C439.3,132.1 439.6,132.5 439.8,132.9 C440.1,133.4 440.4,133.8 440.7,134.2 C440.9,134.6 441.2,135.0 441.5,135.4 C441.8,135.8 442.1,136.3 442.4,136.7 C442.6,137.1 442.9,137.5 443.2,137.9 C443.5,138.3 443.8,138.7 444.1,139.1 C444.4,139.5 444.7,139.9 445.0,140.3 C445.3,140.7 445.6,141.1 445.9,141.5 C446.2,141.9 446.5,142.3 446.8,142.7 C447.1,143.1 447.4,143.5 447.7,143.9 C448.0,144.3 448.3,144.7 448.6,145.1 C448.9,145.5 449.2,145.9 449.5,146.3 C449.9,146.7 450.2,147.0 450.5,147.4 C450.8,147.8 451.1,148.2 451.4,148.6 C451.8,149.0 452.1,149.4 452.4,149.7 C452.7,150.1 453.1,150.5 453.4,150.9 C453.7,151.2 454.0,151.6 454.4,152.0 C454.7,152.4 455.0,152.7 455.4,153.1 C455.7,153.5 456.0,153.9 456.4,154.2 C456.7,154.6 457.0,155.0 457.4,155.3 C457.7,155.7 458.0,156.1 458.4,156.4 C458.7,156.8 459.1,157.1 459.4,157.5 C459.8,157.9 460.1,158.2 460.5,158.6 C460.8,158.9 461.2,159.3 461.5,159.6 C461.9,160.0 462.2,160.3 462.6,160.7 C462.9,161.0 463.3,161.4 463.6,161.7 C464.0,162.1 464.4,162.4 464.7,162.7 C465.1,163.1 465.4,163.4 465.8,163.8 C466.2,164.1 466.5,164.4 466.9,164.8 C467.3,165.1 467.6,165.4 468.0,165.8 C468.4,166.1 468.8,166.4 469.1,166.7 C469.5,167.1 469.9,167.4 470.3,167.7 C470.6,168.0 471.0,168.3 471.4,168.7 C471.8,169.0 472.2,169.3 472.5,169.6 C472.9,169.9 473.3,170.2 473.7,170.5 C474.1,170.8 474.5,171.2 474.9,171.5 C475.2,171.8 475.6,172.1 476.0,172.4 C476.4,172.7 476.8,173.0 477.2,173.3 C477.6,173.6 478.0,173.9 478.4,174.1 C478.8,174.4 479.2,174.7 479.6,175.0 C480.0,175.3 480.4,175.6 480.8,175.9 C481.2,176.2 481.6,176.4 482.0,176.7 C482.4,177.0 482.8,177.3 483.2,177.5 C483.7,177.8 484.1,178.1 484.5,178.4 C484.9,178.6 485.3,178.9 485.7,179.2 C486.1,179.4 486.6,179.7 487.0,179.9 C487.4,180.2 487.8,180.5 488.2,180.7 C488.7,181.0 489.1,181.2 489.5,181.5 C489.9,181.7 490.4,182.0 490.8,182.2 C491.2,182.5 491.6,182.7 492.1,182.9 C492.5,183.2 492.9,183.4 493.4,183.6 C493.8,183.9 494.2,184.1 494.7,184.3 C495.1,184.6 495.5,184.8 496.0,185.0 C496.4,185.3 496.9,185.5 497.3,185.7 C497.7,185.9 498.2,186.1 498.6,186.3 C499.1,186.6 499.5,186.8 500.0,187.0 C500.4,187.2 500.9,187.4 501.3,187.6 C501.8,187.8 502.2,188.0 502.7,188.2 C503.1,188.4 503.6,188.6 504.0,188.8 C504.5,189.0 504.9,189.2 505.4,189.3 C505.9,189.5 506.3,189.7 506.8,189.9 C507.2,190.1 507.7,190.3 508.2,190.4 C508.6,190.6 509.1,190.8 509.6,190.9 C510.0,191.1 510.5,191.3 511.0,191.4 C511.4,191.6 511.9,191.8 512.4,191.9 C512.8,192.1 513.3,192.2 513.8,192.4 C514.3,192.6 514.7,192.7 515.2,192.9 C515.7,193.0 516.2,193.1 516.6,193.3 C517.1,193.4 517.6,193.6 518.1,193.7 C518.6,193.8 519.0,194.0 519.5,194.1 C520.0,194.3 520.5,194.4 521.0,194.5 C521.5,194.6 521.9,194.8 522.4,194.9 C522.9,195.0 523.4,195.1 523.9,195.3 C524.4,195.4 524.9,195.5 525.4,195.6 C525.8,195.7 526.3,195.8 526.8,195.9 C527.3,196.0 527.8,196.2 528.3,196.3 C528.8,196.4 529.3,196.5 529.8,196.6 C530.3,196.7 530.8,196.8 531.3,196.9 C531.8,197.0 532.3,197.1 532.8,197.1 C533.3,197.2 533.8,197.3 534.3,197.4 C534.8,197.5 535.3,197.6 535.8,197.7 C536.3,197.8 536.8,197.8 537.3,197.9 C537.8,198.0 538.3,198.1 538.8,198.2 C539.3,198.2 539.8,198.3 540.3,198.4 C540.8,198.5 541.3,198.5 541.8,198.6 C542.3,198.7 542.8,198.7 543.3,198.8 C543.8,198.9 544.3,198.9 544.8,199.0 C545.3,199.1 545.8,199.1 546.3,199.2 C546.8,199.2 547.3,199.3 547.8,199.3 C548.4,199.4 548.9,199.5 549.4,199.5 C549.9,199.6 550.4,199.6 550.9,199.7 C551.4,199.7 551.9,199.8 552.4,199.8 C552.9,199.8 553.4,199.9 553.9,199.9 C554.4,200.0 555.0,200.0 555.5,200.1 C556.0,200.1 556.5,200.1 557.0,200.2 C557.5,200.2 558.0,200.2 558.5,200.3 C559.0,200.3 559.5,200.3 560.0,200.4 C560.6,200.4 561.1,200.4 561.6,200.5 C562.1,200.5 562.6,200.5 563.1,200.5 C563.6,200.6 564.1,200.6 564.6,200.6 C565.1,200.6 565.6,200.7 566.2,200.7 C566.7,200.7 567.2,200.7 567.7,200.7 C568.2,200.8 568.7,200.8 569.2,200.8 C569.7,200.8 570.2,200.8 570.7,200.8 C571.2,200.9 571.7,200.9 572.2,200.9 C572.7,200.9 573.3,200.9 573.8,200.9 C574.3,200.9 574.8,200.9 575.3,201.0 C575.8,201.0 576.3,201.0 576.8,201.0 C577.3,201.0 577.8,201.0 578.3,201.0 C578.8,201.0 579.3,201.0 579.8,201.0 C580.3,201.0 580.8,201.0 581.3,201.0 C581.8,201.0 582.3,201.0 582.8,201.0 C583.3,201.0 583.8,201.0 584.3,201.0 C584.8,201.0 585.3,201.0 585.8,201.0 C586.3,201.0 586.8,201.0 587.3,201.0 C587.8,201.0 588.3,201.0 588.8,201.0 C589.3,201.0 589.8,201.0 590.3,201.0 C590.8,201.0 591.3,201.0 591.7,201.0 C592.2,201.0 592.7,201.0 593.2,201.0 C593.7,201.0 594.2,200.9 594.7,200.9 C595.2,200.9 595.7,200.9 596.1,200.9 C596.6,200.9 597.4,200.9 597.6,200.9" stroke="#7d7c14" stroke-width="2.6" fill="none" stroke-linejoin="round" stroke-dasharray="9.8 10.1" stroke-dashoffset="0.33"/></g>
<path d="M95.96,217.70v-2.50M95.96,1.30v2.50M128.41,217.70v-2.50M128.41,1.30v2.50M160.87,217.70v-2.50M160.87,1.30v2.50M193.33,217.70v-2.50M193.33,1.30v2.50M225.79,217.70v-2.50M225.79,1.30v2.50M258.24,217.70v-2.50M258.24,1.30v2.50M63.50,199.67h2.50M290.70,199.67h-2.50M63.50,154.58h2.50M290.70,154.58h-2.50M63.50,109.50h2.50M290.70,109.50h-2.50M63.50,64.42h2.50M290.70,64.42h-2.50M63.50,19.33h2.50M290.70,19.33h-2.50" stroke="#5e5e5e" stroke-width="1.0" fill="none"/><rect x="63.50" y="1.30" width="227.20" height="216.40" stroke="#5e5e5e" stroke-width="1.2" fill="none"/>
<g fill="#262626"><g transform="translate(63.50,236.70) scale(1.0000,1.0800)"><text x="-3.61" y="0" font-size="13.0">0</text></g><g transform="translate(95.96,236.70) scale(1.0000,1.0800)"><text x="-7.23" y="0" font-size="13.0"> 0</text><path transform="translate(-7.23,0) scale(0.00635,-0.00635)" d="M763 0L583 0L583 1098C540 1058 483 1019 413 980C343 941 280 912 223 892L223 1058C323 1104 411 1159 486 1223C561 1287 614 1349 645 1409L763 1409Z"/></g><g transform="translate(128.41,236.70) scale(1.0000,1.0800)"><text x="-7.23" y="0" font-size="13.0">20</text></g><g transform="translate(160.87,236.70) scale(1.0000,1.0800)"><text x="-7.23" y="0" font-size="13.0">30</text></g><g transform="translate(193.33,236.70) scale(1.0000,1.0800)"><text x="-7.23" y="0" font-size="13.0">40</text></g><g transform="translate(225.79,236.70) scale(1.0000,1.0800)"><text x="-7.23" y="0" font-size="13.0">50</text></g><g transform="translate(258.24,236.70) scale(1.0000,1.0800)"><text x="-7.23" y="0" font-size="13.0">60</text></g><g transform="translate(290.70,236.70) scale(1.0000,1.0800)"><text x="-7.23" y="0" font-size="13.0">70</text></g><g transform="translate(57.90,205.17) scale(1.0000,1.0800)"><text x="-7.23" y="0" font-size="13.0">0</text></g><g transform="translate(57.90,160.08) scale(1.0000,1.0800)"><text x="-25.30" y="0" font-size="13.0">0.25</text></g><g transform="translate(57.90,115.00) scale(1.0000,1.0800)"><text x="-18.07" y="0" font-size="13.0">0.5</text></g><g transform="translate(57.90,69.92) scale(1.0000,1.0800)"><text x="-25.30" y="0" font-size="13.0">0.75</text></g><g transform="translate(57.90,24.83) scale(1.0000,1.0800)"><path transform="translate(-7.23,0) scale(0.00635,-0.00635)" d="M763 0L583 0L583 1098C540 1058 483 1019 413 980C343 941 280 912 223 892L223 1058C323 1104 411 1159 486 1223C561 1287 614 1349 645 1409L763 1409Z"/></g></g>
<g font-size="14.3" fill="#262626"><text transform="translate(155.80,258.80) scale(1.17,1)">Δ</text><text transform="translate(167.30,258.80) scale(1.1,1)">z</text><text x="175.30" y="252.00" font-size="9.6" stroke="#262626" stroke-width="0.25">+</text><text x="185.80" y="258.80">[-]</text></g>
<path d="M402.51,217.70v-2.50M402.51,1.30v2.50M435.03,217.70v-2.50M435.03,1.30v2.50M467.54,217.70v-2.50M467.54,1.30v2.50M500.06,217.70v-2.50M500.06,1.30v2.50M532.57,217.70v-2.50M532.57,1.30v2.50M565.09,217.70v-2.50M565.09,1.30v2.50M370.00,199.67h2.50M597.60,199.67h-2.50M370.00,154.58h2.50M597.60,154.58h-2.50M370.00,109.50h2.50M597.60,109.50h-2.50M370.00,64.42h2.50M597.60,64.42h-2.50M370.00,19.33h2.50M597.60,19.33h-2.50" stroke="#5e5e5e" stroke-width="1.0" fill="none"/><rect x="370.00" y="1.30" width="227.60" height="216.40" stroke="#5e5e5e" stroke-width="1.2" fill="none"/>
<g fill="#262626"><g transform="translate(370.00,236.70) scale(1.0000,1.0800)"><text x="-3.61" y="0" font-size="13.0">0</text></g><g transform="translate(402.51,236.70) scale(1.0000,1.0800)"><text x="-7.23" y="0" font-size="13.0"> 0</text><path transform="translate(-7.23,0) scale(0.00635,-0.00635)" d="M763 0L583 0L583 1098C540 1058 483 1019 413 980C343 941 280 912 223 892L223 1058C323 1104 411 1159 486 1223C561 1287 614 1349 645 1409L763 1409Z"/></g><g transform="translate(435.03,236.70) scale(1.0000,1.0800)"><text x="-7.23" y="0" font-size="13.0">20</text></g><g transform="translate(467.54,236.70) scale(1.0000,1.0800)"><text x="-7.23" y="0" font-size="13.0">30</text></g><g transform="translate(500.06,236.70) scale(1.0000,1.0800)"><text x="-7.23" y="0" font-size="13.0">40</text></g><g transform="translate(532.57,236.70) scale(1.0000,1.0800)"><text x="-7.23" y="0" font-size="13.0">50</text></g><g transform="translate(565.09,236.70) scale(1.0000,1.0800)"><text x="-7.23" y="0" font-size="13.0">60</text></g><g transform="translate(597.60,236.70) scale(1.0000,1.0800)"><text x="-7.23" y="0" font-size="13.0">70</text></g><g transform="translate(364.40,205.17) scale(1.0000,1.0800)"><text x="-7.23" y="0" font-size="13.0">0</text></g><g transform="translate(364.40,160.08) scale(1.0000,1.0800)"><text x="-25.30" y="0" font-size="13.0">0.25</text></g><g transform="translate(364.40,115.00) scale(1.0000,1.0800)"><text x="-18.07" y="0" font-size="13.0">0.5</text></g><g transform="translate(364.40,69.92) scale(1.0000,1.0800)"><text x="-25.30" y="0" font-size="13.0">0.75</text></g><g transform="translate(364.40,24.83) scale(1.0000,1.0800)"><path transform="translate(-7.23,0) scale(0.00635,-0.00635)" d="M763 0L583 0L583 1098C540 1058 483 1019 413 980C343 941 280 912 223 892L223 1058C323 1104 411 1159 486 1223C561 1287 614 1349 645 1409L763 1409Z"/></g></g>
<g font-size="14.3" fill="#262626"><text transform="translate(462.50,258.80) scale(1.17,1)">Δ</text><text transform="translate(474.00,258.80) scale(1.1,1)">z</text><text x="482.00" y="252.00" font-size="9.6" stroke="#262626" stroke-width="0.25">+</text><text x="492.50" y="258.80">[-]</text></g>
<g transform="translate(11.80,126.70) rotate(-90)" fill="#262626"><text x="0" y="0" font-size="14.3">R</text><text transform="translate(9.60,6.90) scale(1.2,1)" font-size="8.6" fill="#3a3a3a">ω</text><text x="17.00" y="14.10" font-size="7.4" stroke="#262626" stroke-width="0.25">x</text><text x="21.30" y="7.30" font-size="8.6" fill="#3a3a3a">,</text><text transform="translate(23.50,6.90) scale(1.2,1)" font-size="8.6" fill="#3a3a3a">ω</text><text x="30.50" y="14.10" font-size="7.4" stroke="#262626" stroke-width="0.25">x</text></g>
<g transform="translate(318.30,126.70) rotate(-90)" fill="#262626"><text x="0" y="0" font-size="14.3">R</text><text transform="translate(9.60,7.70) scale(1.2,1)" font-size="8.6" fill="#3a3a3a">ω</text><text x="17.00" y="14.90" font-size="7.4" stroke="#262626" stroke-width="0.25">x</text><text x="21.30" y="8.10" font-size="8.6" fill="#3a3a3a">,</text><text transform="translate(23.50,7.70) scale(1.2,1)" font-size="8.6" fill="#3a3a3a">ω</text><text x="30.50" y="14.90" font-size="7.4" stroke="#262626" stroke-width="0.25">x</text></g>
<rect x="139.00" y="14.20" width="138.50" height="71.10" fill="#fff" stroke="#5e5e5e" stroke-width="1.2"/><line x1="147.00" y1="24.60" x2="187.00" y2="24.60" stroke="#0072bd" stroke-width="2.6"/><g transform="translate(191.00,29.40)" fill="#262626"><text x="0.00" y="0" font-size="11.9">PIV (32x32x32)</text></g><line x1="147.00" y1="41.20" x2="187.00" y2="41.20" stroke="#edb120" stroke-width="2.6"/><g transform="translate(191.00,46.00)" fill="#262626"><text x="0.00" y="0" font-size="11.9">PIV (64x32x 6)</text><path transform="translate(64.82,0) scale(0.00581,-0.00581)" d="M763 0L583 0L583 1098C540 1058 483 1019 413 980C343 941 280 912 223 892L223 1058C323 1104 411 1159 486 1223C561 1287 614 1349 645 1409L763 1409Z"/></g><line x1="147.00" y1="57.60" x2="187.00" y2="57.60" stroke="#d95319" stroke-width="2.6"/><g transform="translate(191.00,62.40)" fill="#262626"><text x="0.00" y="0" font-size="11.9">VIC+</text></g><line x1="147.00" y1="74.40" x2="157.00" y2="74.40" stroke="#7d7c14" stroke-width="2.6"/><line x1="167.00" y1="74.40" x2="177.00" y2="74.40" stroke="#7d7c14" stroke-width="2.6"/><g transform="translate(191.00,79.20)" fill="#262626"><text x="0.00" y="0" font-size="11.9">VIC+ Filtered</text></g>
<rect x="446.30" y="14.30" width="138.60" height="54.10" fill="#fff" stroke="#5e5e5e" stroke-width="1.2"/><line x1="454.30" y1="24.60" x2="494.20" y2="24.60" stroke="#0072bd" stroke-width="2.6"/><g transform="translate(498.50,29.40)" fill="#262626"><text x="0.00" y="0" font-size="11.9">PIV (32x32x32)</text></g><line x1="454.30" y1="41.20" x2="494.20" y2="41.20" stroke="#d95319" stroke-width="2.6"/><g transform="translate(498.50,46.00)" fill="#262626"><text x="0.00" y="0" font-size="11.9">VIC+</text></g><line x1="454.30" y1="57.80" x2="464.30" y2="57.80" stroke="#7d7c14" stroke-width="2.6"/><line x1="474.30" y1="57.80" x2="484.30" y2="57.80" stroke="#7d7c14" stroke-width="2.6"/><line x1="489.30" y1="57.80" x2="493.30" y2="57.80" stroke="#7d7c14" stroke-width="2.6"/><g transform="translate(498.50,62.60)" fill="#262626"><text x="0.00" y="0" font-size="11.9">VIC+ Filtered</text></g>
</svg>
</body></html>
